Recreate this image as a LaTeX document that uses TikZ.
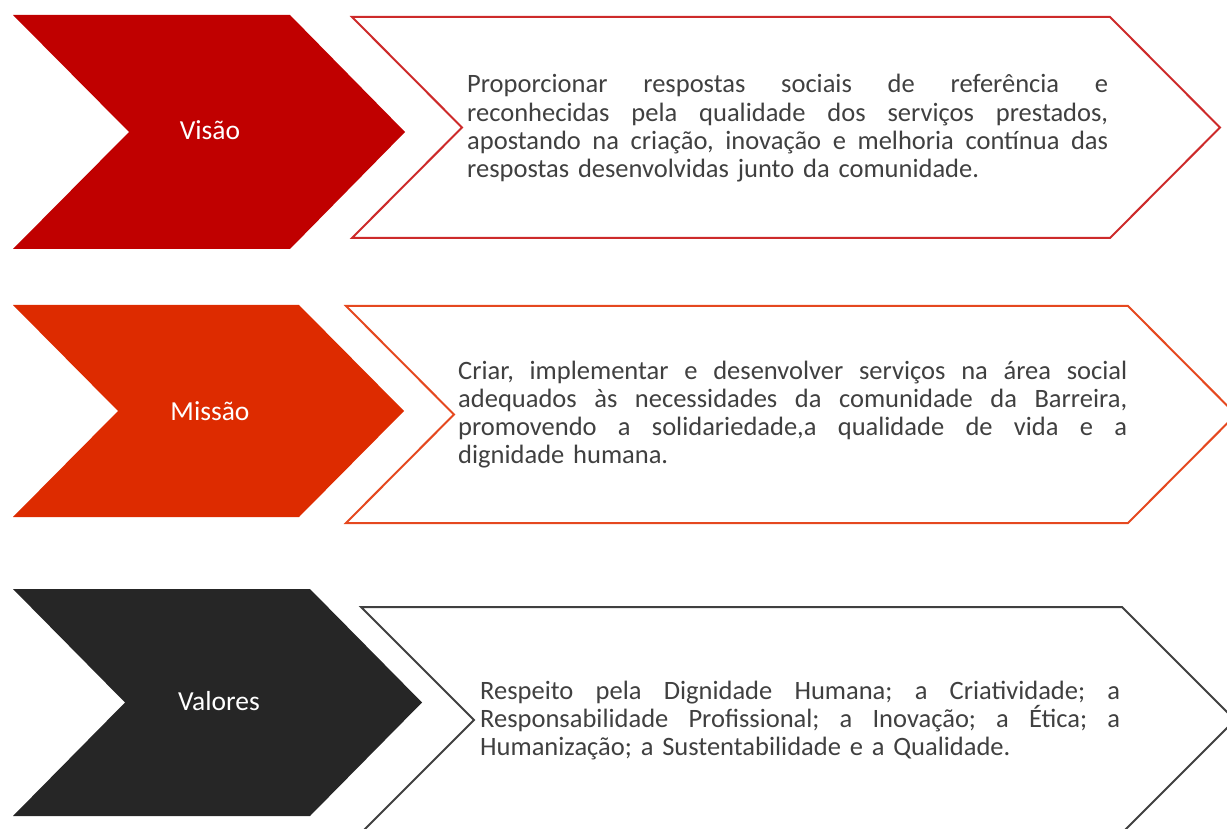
\documentclass[tikz,border=0pt]{standalone}
\usepackage{fontspec}
\setmainfont{Carlito}
\frenchspacing
\definecolor{visaofill}{HTML}{C00000}
\definecolor{missaofill}{HTML}{DD2B00}
\definecolor{valoresfill}{HTML}{262626}
\definecolor{visaoline}{HTML}{CD2A2A}
\definecolor{missaoline}{HTML}{E5481F}
\definecolor{valoresline}{HTML}{404040}
\definecolor{bodytext}{HTML}{404040}
\newcommand\jl[1]{\hbox to \hsize{\frenchspacing\spaceskip=\fontdimen2\font plus 1fil\relax #1}}
\tikzset{
  chevfill/.style={draw=none},
  outl/.style={line width=2pt, fill=white, line join=miter},
  lbl/.style={text=white, font=\fontsize{27.5}{30}\selectfont, inner sep=0pt, anchor=base},
  bodytxt/.style={text=bodytext, font=\frenchspacing\fontsize{26.5}{28.3}\selectfont, inner sep=0pt, anchor=base west, align=left}
}
\begin{document}
\begin{tikzpicture}[x=1pt,y=-1pt]
\useasboundingbox (0,0) rectangle (1227,829);
\clip (0,0) rectangle (1227,829);
% Visao
\fill[visaofill] (13,15) -- (290,15) -- (405,132) -- (290,249) -- (13,249) -- (129,132) -- cycle;
\draw[outl, draw=visaoline] (352,17) -- (1110,17) -- (1220,127.5) -- (1110,238) -- (352,238) -- (462,127.5) -- cycle;
\node[lbl] (lv) at (210,139.5) {Visão};
\node[bodytxt, text width=641pt] (tv) at (467,93) {%
\jl{Proporcionar respostas sociais de referência e}
\jl{reconhecidas pela qualidade dos serviços prestados,}
\jl{apostando na criação, inovação e melhoria contínua das}
respostas desenvolvidas junto da comunidade.};
% Missao
\fill[missaofill] (13,305) -- (299,305) -- (404,411) -- (299,517) -- (13,517) -- (118,411) -- cycle;
\draw[outl, draw=missaoline] (346,306) -- (1128,306) -- (1236,414.5) -- (1128,523) -- (346,523) -- (454,414.5) -- cycle;
\node[lbl] (lm) at (210,420) {Missão};
\node[bodytxt, text width=669pt] (tm) at (458,379) {%
\jl{Criar, implementar e desenvolver serviços na área social}
\jl{adequados às necessidades da comunidade da Barreira,}
\jl{promovendo a solidariedade,a qualidade de vida e a}
dignidade humana.};
% Valores
\fill[valoresfill] (13,589) -- (310,589) -- (422,702.5) -- (310,816) -- (13,816) -- (125,702.5) -- cycle;
\draw[outl, draw=valoresline] (361,607) -- (1122,607) -- (1235,720) -- (1122,833) -- (361,833) -- (474,720) -- cycle;
\node[lbl] (lva) at (219,710) {Valores};
\node[bodytxt, text width=640pt] (tva) at (480,699) {%
\jl{Respeito pela Dignidade Humana; a Criatividade; a}
\jl{Responsabilidade Profissional; a Inovação; a Ética; a}
Humanização; a Sustentabilidade e a Qualidade.};
\end{tikzpicture}
\end{document}
